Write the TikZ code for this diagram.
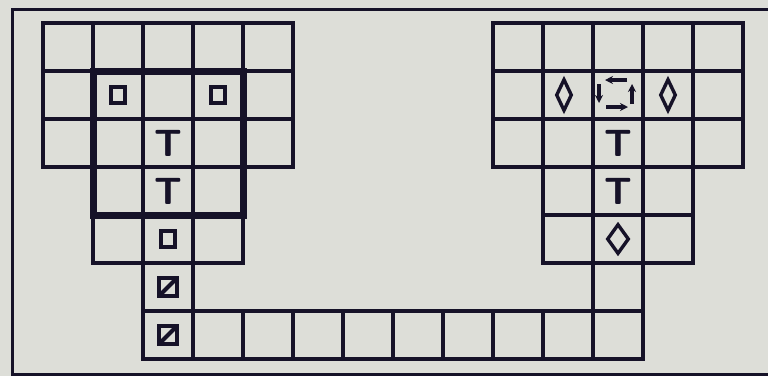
\documentclass[tikz,border=0pt]{standalone}
\usepackage{tikz}
\usetikzlibrary{arrows.meta,shapes.geometric}
\definecolor{paper}{RGB}{221,222,216}
\definecolor{ink}{RGB}{22,18,40}

\begin{document}
\begin{tikzpicture}[x=1pt,y=-1pt,>={Stealth[length=8pt,width=8pt]},
 cell/.style={draw=ink,line width=3.2pt,minimum width=50pt,minimum height=48pt,inner sep=0pt,outer sep=0pt},
 sq/.style={draw=ink,line width=3.8pt,minimum width=14pt,minimum height=16pt,inner sep=0pt},
 slashsq/.style={sq,minimum width=18pt,minimum height=18pt,
  path picture={\draw[ink,line width=4pt](path picture bounding box.south west)--(path picture bounding box.north east);}},
 lozenge/.style={diamond,draw=ink,line width=3.4pt,minimum width=16pt,minimum height=32pt,inner sep=0pt},
 letter/.style={text=ink,font=\fontsize{38}{38}\selectfont\sffamily\bfseries,inner sep=0pt},
 spin/.style={->,draw=ink,line width=3.2pt}]
\fill[paper](0,0)rectangle(768,376);
\useasboundingbox(0,0)rectangle(768,376);
\draw[ink,line width=3pt](770,9)--(12,9)--(12,374)--(770,374);
% left block
\foreach \r in {0,1,2}{\foreach \c in {0,...,4} \node[cell](c-\c-\r) at (68+50*\c,47+48*\r){};}
\foreach \r in {3,4}{\foreach \c in {1,2,3} \node[cell](c-\c-\r) at (68+50*\c,47+48*\r){};}
\node[cell](c-2-5) at (168,287){};
\foreach \c in {2,...,11} \node[cell](c-\c-6) at (68+50*\c,335){};
% right block
\foreach \r in {0,1,2}{\foreach \c in {9,...,13} \node[cell](c-\c-\r) at (68+50*\c,47+48*\r){};}
\foreach \r in {3,4}{\foreach \c in {10,11,12} \node[cell](c-\c-\r) at (68+50*\c,47+48*\r){};}
\node[cell](c-11-5) at (618,287){};
\draw[ink,line width=7pt](c-1-1.north west) rectangle (c-3-3.south east);
% marks, left
\node[sq](s1) at (c-1-1){};
\node[sq](s2) at (c-3-1){};
\node[letter](t1) at (c-2-2){T};
\node[letter](t2) at (c-2-3){T};
\node[sq](s3) at (c-2-4){};
\node[slashsq](z1) at (c-2-5){};
\node[slashsq](z2) at (c-2-6){};
% marks, right
\node[lozenge](d1) at ([xshift=-4pt]c-10-1){};
\node[lozenge](d2) at (c-12-1){};
\node[letter](t3) at (c-11-2){T};
\node[letter](t4) at (c-11-3){T};
\node[lozenge,minimum width=22pt,minimum height=30pt](d3) at (c-11-4){};
\draw[spin]([shift={(9,-15)}]c-11-1.center)--++(-22,0);
\draw[spin]([shift={(-19,-11)}]c-11-1.center)--++(0,19);
\draw[spin]([shift={(-12,12)}]c-11-1.center)--++(22,0);
\draw[spin]([shift={(14,9)}]c-11-1.center)--++(0,-20);
\end{tikzpicture}
\end{document}
